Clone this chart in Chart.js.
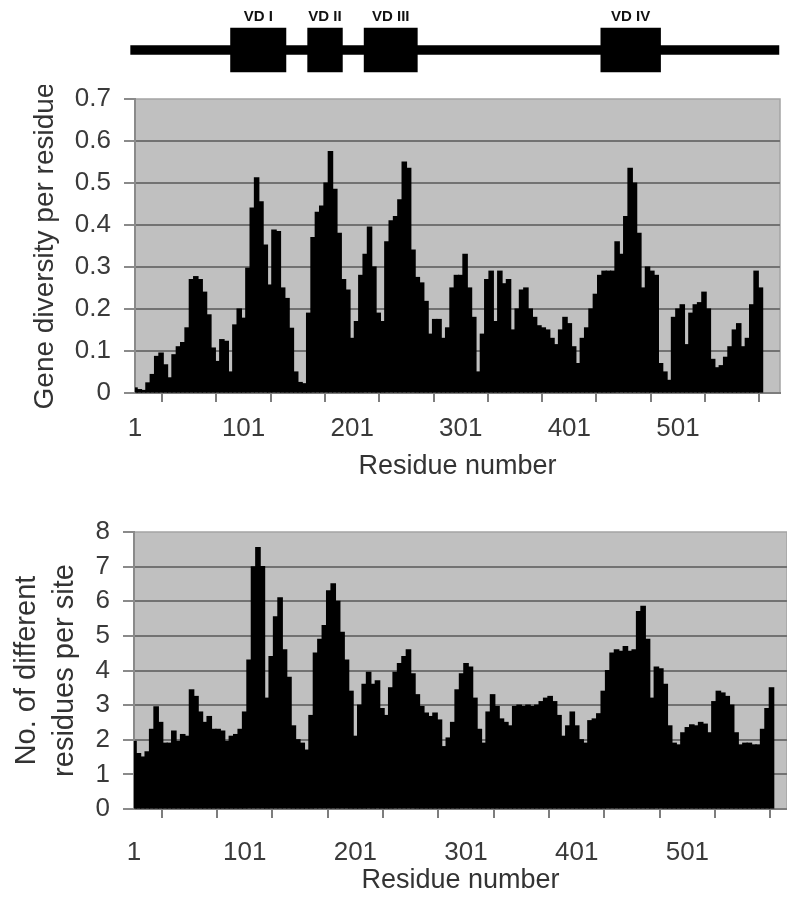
<!DOCTYPE html>
<html>
<head>
<meta charset="utf-8">
<script src="https://cdn.jsdelivr.net/npm/chart.js@4.4.1/dist/chart.umd.min.js"></script>
<style>
  html, body { margin: 0; padding: 0; background: #fff; }
  #wrap { position: relative; width: 787px; height: 899px; overflow: hidden; }
  canvas { position: absolute; left: 0; }
  #domainChart { top: 0; }
  #diversityChart { top: 85px; }
  #residueChart { top: 485px; }
</style>
</head>
<body>
<div id="wrap">
  <canvas id="domainChart" width="787" height="85"></canvas>
  <canvas id="diversityChart" width="787" height="400"></canvas>
  <canvas id="residueChart" width="787" height="414"></canvas>
</div>
<script>
// gene diversity per residue, one value every 4 residues (1, 5, 9 ... 577)
const diversity = [
  0.012, 0.008, 0.006, 0.024, 0.044, 0.087, 0.095, 0.067, 0.036, 0.091,
  0.11, 0.12, 0.155, 0.27, 0.277, 0.27, 0.24, 0.186, 0.107, 0.075,
  0.127, 0.123, 0.05, 0.162, 0.2, 0.178, 0.297, 0.44, 0.512, 0.455,
  0.352, 0.257, 0.388, 0.384, 0.25, 0.225, 0.154, 0.05, 0.025, 0.022,
  0.19, 0.37, 0.43, 0.445, 0.5, 0.575, 0.485, 0.38, 0.27, 0.245,
  0.13, 0.17, 0.28, 0.33, 0.395, 0.3, 0.19, 0.17, 0.36, 0.41,
  0.42, 0.46, 0.55, 0.535, 0.34, 0.275, 0.262, 0.218, 0.14, 0.175,
  0.175, 0.13, 0.155, 0.25, 0.28, 0.28, 0.33, 0.25, 0.18, 0.05,
  0.14, 0.27, 0.29, 0.17, 0.29, 0.26, 0.27, 0.15, 0.2, 0.245,
  0.25, 0.2, 0.18, 0.16, 0.155, 0.15, 0.13, 0.115, 0.15, 0.18,
  0.165, 0.11, 0.07, 0.13, 0.155, 0.2, 0.235, 0.28, 0.29, 0.29,
  0.29, 0.36, 0.33, 0.42, 0.535, 0.5, 0.38, 0.25, 0.3, 0.29,
  0.28, 0.07, 0.05, 0.03, 0.18, 0.2, 0.21, 0.115, 0.19, 0.21,
  0.215, 0.24, 0.2, 0.08, 0.06, 0.065, 0.085, 0.11, 0.15, 0.165,
  0.11, 0.13, 0.21, 0.29, 0.25
];

// number of different residues per site, same residues
const differentResidues = [
  1.95, 1.6, 1.5, 1.65, 2.3, 2.95, 2.5, 1.9, 1.9, 2.25,
  1.95, 2.15, 2.1, 3.44, 3.25, 2.8, 2.5, 2.67, 2.3, 2.3,
  2.25, 1.95, 2.1, 2.15, 2.3, 2.8, 4.3, 6.99, 7.55, 7.0,
  3.2, 4.4, 5.55, 6.1, 4.6, 3.8, 2.4, 2.0, 1.9, 1.7,
  2.7, 4.5, 4.9, 5.3, 6.3, 6.5, 6.0, 5.1, 4.3, 3.4,
  2.1, 3.0, 3.6, 3.95, 3.6, 3.7, 2.9, 2.7, 3.5, 3.95,
  4.2, 4.4, 4.6, 3.9, 3.3, 2.96, 2.77, 2.67, 2.77, 2.57,
  1.8, 2.05, 2.5, 3.44, 3.9, 4.2, 4.1, 3.2, 2.3, 1.9,
  2.8, 3.3, 2.96, 2.6, 2.5, 2.4, 2.96, 3.0, 2.96, 3.0,
  2.96, 3.0, 3.1, 3.2, 3.25, 3.1, 2.7, 2.1, 2.4, 2.8,
  2.4, 2.0, 1.9, 2.55, 2.6, 2.75, 3.4, 4.0, 4.5, 4.6,
  4.55, 4.69, 4.55, 4.6, 5.7, 5.85, 4.9, 3.2, 4.1, 4.05,
  3.6, 2.4, 1.9, 1.85, 2.2, 2.35, 2.43, 2.4, 2.5, 2.45,
  2.2, 3.1, 3.4, 3.35, 3.25, 3.0, 2.2, 1.85, 1.9, 1.9,
  1.85, 1.85, 2.3, 2.9, 3.5
];

const residues = diversity.map((v, i) => 1 + i * 4);

const xTicks = [1, 51, 101, 151, 201, 251, 301, 351, 401, 451, 501, 551];
const xLabels = ['1', '101', '201', '301', '401', '501'];

const domainNames = ['VD I', 'VD II', 'VD III', 'VD IV'];
const domainRanges = [[89, 140], [160, 192], [212, 261], [430, 485]];
const backbone = [-3, 594];

const FONT = '"Liberation Sans", Arial, sans-serif';
Chart.defaults.font.family = FONT;

// grey plot area like the spreadsheet original
const plotBg = {
  id: 'plotBg',
  beforeDraw(chart) {
    const {ctx, chartArea: a} = chart;
    ctx.save();
    ctx.fillStyle = '#c0c0c0';
    ctx.fillRect(a.left, a.top, a.right - a.left, a.bottom - a.top);
    ctx.strokeStyle = '#a4a4a4';
    ctx.lineWidth = 1.5;
    ctx.beginPath();
    ctx.moveTo(a.left, a.top);
    ctx.lineTo(a.right, a.top);
    ctx.lineTo(a.right, a.bottom);
    ctx.stroke();
    ctx.restore();
  }
};

function profileChart(id, values, cfg) {
  return new Chart(document.getElementById(id), {
    type: 'bar',
    data: {
      datasets: [{
        data: residues.map((r, i) => ({x: r, y: values[i]})),
        backgroundColor: '#000',
        borderWidth: 0,
        barPercentage: 1,
        categoryPercentage: 1,
        inflateAmount: 0.6
      }]
    },
    options: {
      responsive: false,
      animation: false,
      layout: {padding: {top: cfg.padTop, right: cfg.padRight, left: 0, bottom: 0}},
      scales: {
        x: {
          type: 'linear',
          min: 1,
          max: cfg.xMax,
          offset: false,
          afterBuildTicks: s => { s.ticks = xTicks.map(v => ({value: v})); },
          afterFit: s => { s.height = cfg.xHeight; },
          ticks: {
            autoSkip: false,
            maxRotation: 0,
            padding: cfg.labelPad,
            color: '#3a3a3a',
            font: {size: 26},
            callback: v => xLabels.includes(String(v)) ? String(v) : ''
          },
          grid: {drawOnChartArea: false, tickLength: 9, color: '#7d7d7d', lineWidth: 2},
          border: {display: true, color: '#7d7d7d', width: 2},
          title: {
            display: true,
            text: 'Residue number',
            color: '#333',
            font: {size: 27},
            padding: {top: 0, bottom: cfg.titlePad}
          }
        },
        y: {
          min: 0,
          max: cfg.yMax,
          afterFit: s => {
            s.width = cfg.yWidth;
            // let the layout padding alone place the plot area
            s.paddingTop = 0;
            s.paddingBottom = 0;
          },
          ticks: {
            stepSize: cfg.yStep,
            padding: 13,
            color: '#3a3a3a',
            font: {size: 26},
            callback: cfg.yFormat
          },
          grid: {
            color: c => (c.tick && c.tick.value >= cfg.yMax) ? 'rgba(0,0,0,0)' : '#727272',
            lineWidth: 2,
            tickLength: 11,
            tickColor: '#8a8a8a'
          },
          border: {color: '#8a8a8a', width: 2},
          title: {
            display: true,
            text: cfg.yTitle,
            color: '#333',
            font: {size: cfg.yTitleSize, lineHeight: 1.3},
            padding: {top: cfg.yTitlePad, bottom: 0}
          }
        }
      },
      plugins: {legend: {display: false}, tooltip: {enabled: false}}
    },
    plugins: [plotBg]
  });
}

profileChart('diversityChart', diversity, {
  padTop: 14, padRight: 7, xMax: 595, xHeight: 92, labelPad: 11, titlePad: 2,
  yMax: 0.7, yStep: 0.1, yWidth: 135, yTitlePad: 27, yTitleSize: 28,
  yTitle: 'Gene diversity per residue',
  yFormat: v => v === 0 ? '0' : v.toFixed(1)
});

profileChart('residueChart', differentResidues, {
  padTop: 47, padRight: 0, xMax: 591, xHeight: 90, labelPad: 19, titlePad: 2,
  yMax: 8, yStep: 1, yWidth: 134, yTitlePad: 8, yTitleSize: 29,
  yTitle: ['No. of different', 'residues per site'],
  yFormat: v => String(v)
});

// VD domain map above the first chart
const domainLabels = {
  id: 'domainLabels',
  afterDatasetsDraw(chart) {
    const {ctx} = chart;
    const meta = chart.getDatasetMeta(1);
    ctx.save();
    ctx.font = 'bold 15px ' + FONT;
    ctx.fillStyle = '#111';
    ctx.textAlign = 'center';
    ctx.textBaseline = 'bottom';
    meta.data.forEach((bar, i) => {
      const p = bar.getProps(['x', 'base', 'y', 'height'], true);
      ctx.fillText(domainNames[i], (p.x + p.base) / 2, p.y - p.height / 2 - 4);
    });
    ctx.restore();
  }
};

new Chart(document.getElementById('domainChart'), {
  type: 'bar',
  data: {
    datasets: [
      {data: [{x: backbone, y: 0}], backgroundColor: '#000', barThickness: 9, grouped: false, clip: false},
      {data: domainRanges.map(d => ({x: d, y: 0})), backgroundColor: '#000', barThickness: 44, grouped: false}
    ]
  },
  options: {
    indexAxis: 'y',
    responsive: false,
    animation: false,
    layout: {padding: {left: 135, right: 7, top: 20, bottom: 5}},
    scales: {
      x: {type: 'linear', min: 1, max: 595, display: false},
      y: {type: 'linear', min: -1, max: 1, display: false}
    },
    plugins: {legend: {display: false}, tooltip: {enabled: false}}
  },
  plugins: [domainLabels]
});
</script>
</body>
</html>
